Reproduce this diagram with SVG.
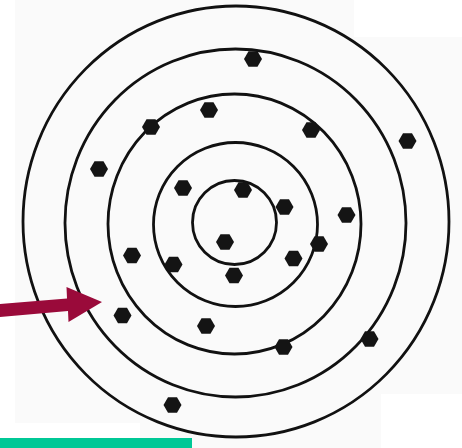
<svg xmlns="http://www.w3.org/2000/svg" width="462" height="448" viewBox="0 0 462 448">
<defs>
<style>
.shell{fill:none;stroke:#111;stroke-width:2.8}
.e{fill:#141414}
</style>
<polygon id="hex" points="9,0 4.5,7.8 -4.5,7.8 -9,0 -4.5,-7.8 4.5,-7.8"/>
</defs>
<rect width="462" height="448" fill="#fff"/>
<polygon points="15,0 354,0 354,37 462,37 462,394 381,394 381,448 140,448 140,423 15,423" fill="#fafafa"/>
<g id="shells">
<circle class="shell" cx="234.5" cy="222.5" r="42"/>
<circle class="shell" cx="235.5" cy="224.5" r="82"/>
<ellipse class="shell" cx="234.5" cy="224" rx="126.5" ry="130"/>
<ellipse class="shell" cx="235.5" cy="223" rx="170.5" ry="174"/>
<ellipse class="shell" cx="236" cy="221.5" rx="213" ry="215.5"/>
</g>
<g id="electrons" class="e">
<use href="#hex" x="253" y="59"/>
<use href="#hex" x="209" y="110"/>
<use href="#hex" x="151" y="127"/>
<use href="#hex" x="311" y="130"/>
<use href="#hex" x="407.5" y="141"/>
<use href="#hex" x="99" y="169"/>
<use href="#hex" x="183" y="188"/>
<use href="#hex" x="243" y="190"/>
<use href="#hex" x="284.5" y="207"/>
<use href="#hex" x="346.5" y="215"/>
<use href="#hex" x="225" y="242"/>
<use href="#hex" x="319" y="244"/>
<use href="#hex" x="132" y="255.5"/>
<use href="#hex" x="173.5" y="264.5"/>
<use href="#hex" x="293.5" y="258.5"/>
<use href="#hex" x="234" y="275.5"/>
<use href="#hex" x="122.5" y="315.5"/>
<use href="#hex" x="206" y="326"/>
<use href="#hex" x="283.5" y="347"/>
<use href="#hex" x="369.5" y="339"/>
<use href="#hex" x="172.5" y="405"/>
</g>
<g id="arrow">
<polygon points="0,304 67,298.5 66.5,287 102,302 68.5,322 68,311 0,317" fill="#9a0a3a"/>
</g>
<rect id="bar" x="0" y="438" width="192" height="10" fill="#00c896"/>
</svg>
